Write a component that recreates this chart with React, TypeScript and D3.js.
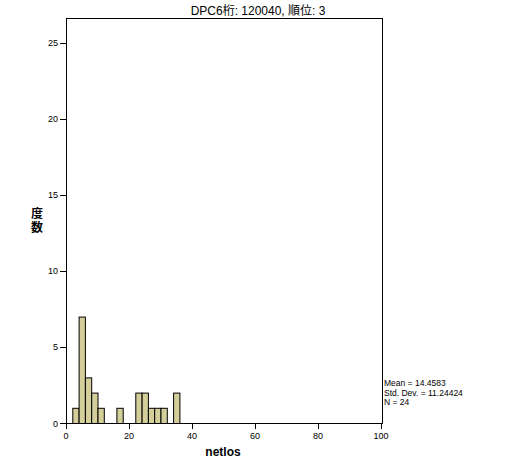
import React from "react";
import * as d3 from "d3";

const title = "DPC6桁: 120040, 順位: 3";
const binStarts = [2, 4, 6, 8, 10, 16, 22, 24, 26, 28, 30, 34];
const binCounts = [1, 7, 3, 2, 1, 1, 2, 2, 1, 1, 1, 2];
const binWidth = 2;
const xTicks = [0, 20, 40, 60, 80, 100];
const yTicks = [0, 5, 10, 15, 20, 25];
const statLines = ["Mean = 14.4583", "Std. Dev. = 11.24424", "N = 24"];
const xLabel = "netlos";
const yLabelChars = ["度", "数"];

export default function App() {
  const W = 517, H = 462;
  const left = 66, right = 382, top = 18, bottom = 423;
  const x = d3.scaleLinear().domain([0, 100]).range([left, right - 1]);
  const y = d3.scaleLinear().domain([0, 26.64]).range([bottom, top]);
  const font = "Arial, 'Liberation Sans', 'Noto Sans CJK JP', sans-serif";
  return (
    <svg width={W} height={H} style={{ position: "absolute", left: 0, top: 0, background: "#fff" }} fontFamily={font}>
      <rect x={0} y={0} width={W} height={H} fill="#fff" />
      <text x={258} y={15} textAnchor="middle" fontSize={12}>{title}</text>
      {binStarts.map((s, i) => (
        <rect key={i} x={x(s) + 0.5} y={y(binCounts[i]) + 0.5} width={x(s + binWidth) - x(s)} height={y(0) - y(binCounts[i])}
          fill="#d3ce9a" stroke="#000" strokeWidth={1} />
      ))}
      <rect x={left + 0.5} y={top + 0.5} width={right - left} height={bottom - top} fill="none" stroke="#000" strokeWidth={1} />
      {yTicks.map(t => (
        <g key={t}>
          <line x1={left - 6} x2={left} y1={Math.round(y(t)) + 0.5} y2={Math.round(y(t)) + 0.5} stroke="#000" />
          <text x={left - 8} y={y(t) + 3.5} textAnchor="end" fontSize={9}>{t}</text>
        </g>
      ))}
      {xTicks.map(t => (
        <g key={t}>
          <line x1={Math.round(x(t)) + 0.5} x2={Math.round(x(t)) + 0.5} y1={bottom} y2={bottom + 6} stroke="#000" />
          <text x={x(t)} y={bottom + 16} textAnchor="middle" fontSize={9}>{t}</text>
        </g>
      ))}
      <text x={223} y={456} textAnchor="middle" fontSize={12} fontWeight="bold">{xLabel}</text>
      {yLabelChars.map((c, i) => (
        <text key={i} x={37} y={218 + i * 14} textAnchor="middle" fontSize={12} fontWeight="bold">{c}</text>
      ))}
      {statLines.map((s, i) => (
        <text key={i} x={384} y={386 + i * 9.5} fontSize={8.5}>{s}</text>
      ))}
    </svg>
  );
}
